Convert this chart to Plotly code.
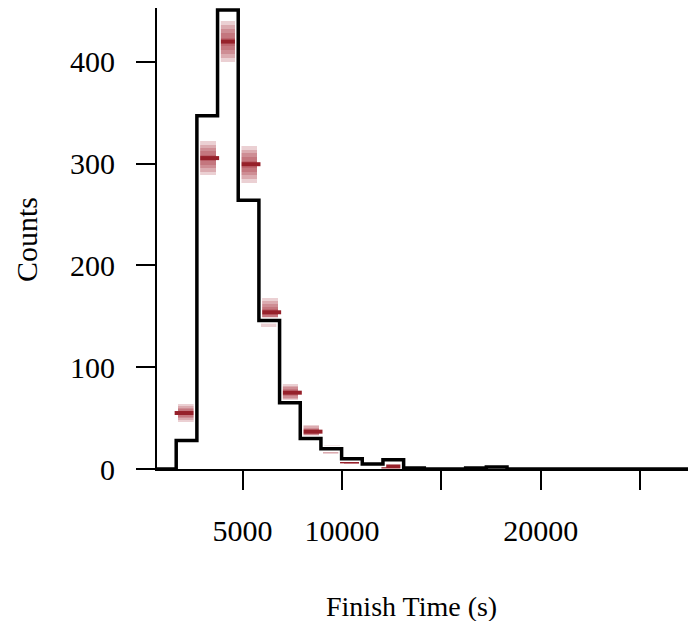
import plotly.graph_objects as go

# Histogram bin edges (s) and observed counts
bin_edges = [1660, 2700, 3740, 4780, 5820, 6860, 7900, 8940, 9980, 11020, 12060,
             13100, 14140, 15180, 16220, 17260, 18300, 19340, 20380, 21420, 22460,
             23500, 24540, 25580, 26620, 27660]
counts = [28, 347, 451, 264, 146, 65, 30, 20, 10, 5, 9, 1, 0, 0, 1, 2,
          0, 0, 0, 0, 0, 0, 0, 0, 0]

# Model prediction per bin: median and half-width of the outer interval
model_median = [55, 305.5, 420, 299.5, 154, 75, 36.7, 19, 7.5, 4.5, 2.5, 1.2]
model_half = [8.8, 16.5, 20, 18, 14, 8.7, 6.5, 4.5, 3, 2, 1.6, 1]

band_levels = [1.0, 0.8, 0.6, 0.4, 0.2]

x_ticks = [5000, 10000, 15000, 20000, 25000]
x_ticktext = ["5000", "10000", "", "20000", ""]
y_ticks = [0, 100, 200, 300, 400]

FONT = "Liberation Serif"

centers = [(bin_edges[i] + bin_edges[i + 1]) / 2 for i in range(len(model_median))]

fig = go.Figure()

for f in band_levels:
    fig.add_trace(go.Bar(
        x=centers,
        y=[2 * h * f for h in model_half],
        base=[m - h * f for m, h in zip(model_median, model_half)],
        width=835,
        marker=dict(color="rgba(160,35,45,0.21)", line=dict(width=0)),
        hoverinfo="skip", showlegend=False,
    ))

fig.add_trace(go.Scatter(
    x=centers, y=model_median, mode="markers",
    marker=dict(symbol="line-ew", size=17,
                line=dict(color="#96202a", width=4)),
    hoverinfo="skip", showlegend=False,
))

step_x = [600] + bin_edges
step_y = [0] + counts + [0]

fig.add_trace(go.Scatter(
    x=step_x, y=step_y, mode="lines", line_shape="hv",
    line=dict(color="white", width=6.5), hoverinfo="skip", showlegend=False,
))
fig.add_trace(go.Scatter(
    x=step_x, y=step_y, mode="lines", line_shape="hv",
    line=dict(color="black", width=3.5), hoverinfo="skip", showlegend=False,
))

fig.update_layout(
    width=688, height=621,
    margin=dict(l=157, r=0, t=8, b=152),
    paper_bgcolor="white", plot_bgcolor="white",
    barmode="overlay", bargap=0,
    font=dict(family=FONT, size=30, color="black"),
    showlegend=False,
    xaxis=dict(
        range=[694, 27404], tickmode="array", tickvals=x_ticks, ticktext=x_ticktext,
        showline=True, linecolor="black", linewidth=2,
        ticks="outside", ticklen=19, tickwidth=2, tickcolor="black",
        showgrid=False, zeroline=False, ticklabelstandoff=15,
    ),
    yaxis=dict(
        range=[0, 453], tickmode="array", tickvals=y_ticks,
        showline=True, linecolor="black", linewidth=2,
        ticks="outside", ticklen=19, tickwidth=2, tickcolor="black",
        showgrid=False, zeroline=False, ticklabelstandoff=15,
    ),
    annotations=[
        dict(text="Finish Time (s)", xref="paper", yref="paper",
             x=(411 - 157) / 531, y=(469 - 606) / 461,
             xanchor="center", yanchor="middle", showarrow=False,
             font=dict(family=FONT, size=28, color="black")),
        dict(text="Counts", xref="paper", yref="paper",
             x=(27 - 157) / 531, y=(469 - 240) / 461, textangle=-90,
             xanchor="center", yanchor="middle", showarrow=False,
             font=dict(family=FONT, size=30, color="black")),
    ],
)

fig.write_html("out.html")
